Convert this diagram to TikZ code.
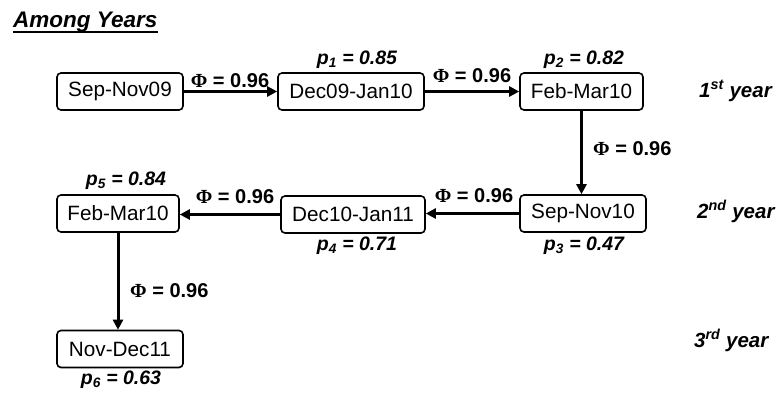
\documentclass[tikz,border=0pt]{standalone}
\usepackage{fontspec}
\setmainfont{Liberation Sans}
\newfontfamily\phifont{Liberation Serif}
\usetikzlibrary{arrows.meta}
\tikzset{
  period/.style={draw, line width=1.6pt, rounded corners=4pt, inner sep=0pt,
    minimum height=37pt, font=\fontsize{20.7}{22}\selectfont},
  flow/.style={line width=3pt, -{Triangle[length=10pt,width=10pt]}},
  philab/.style={anchor=base, inner sep=0pt, font=\fontsize{20}{22}\selectfont\bfseries},
  plab/.style={anchor=base, inner sep=0pt, font=\fontsize{19.5}{22}\selectfont\bfseries\itshape},
  yearlab/.style={anchor=base west, inner sep=0pt, font=\fontsize{20.5}{22}\selectfont\bfseries\itshape},
}
\newcommand{\phival}{{\phifont\bfseries Φ} = 0.96}
\newcommand{\pval}[2]{p\textsubscript{#1} = #2}
\begin{document}
\begin{tikzpicture}[x=1pt,y=1pt]
\useasboundingbox (0,0) rectangle (780,-392);
% title
\node[anchor=base west, inner sep=0pt, font=\fontsize{22.5}{24}\selectfont\bfseries\itshape] (title) at (13,-27) {Among Years};
\draw[line width=1.8pt] ([yshift=-5pt]title.base west) -- ([yshift=-5pt]title.base east);
% boxes
\node[period, minimum width=126pt] (a) at (120,-91.5) {Sep-Nov09};
\node[period, minimum width=146pt] (b) at (351,-91.5) {Dec09-Jan10};
\node[period, minimum width=123pt] (c) at (581.5,-91.5) {Feb-Mar10};
\node[period, minimum width=126pt] (d) at (583,-213.5) {Sep-Nov10};
\node[period, minimum width=144pt] (e) at (353,-214.5) {Dec10-Jan11};
\node[period, minimum width=122pt] (f) at (118,-213.5) {Feb-Mar10};
\node[period, minimum width=126pt] (g) at (120,-349) {Nov-Dec11};
% arrows
\draw[flow] (a.east) -- (b.west);
\draw[flow] (b.east) -- (b.east -| c.west);
\draw[flow] (c.south) -- (c.south |- d.north);
\draw[flow] (d.west) -- (d.west -| e.east);
\draw[flow] (e.west) -- (e.west -| f.east);
\draw[flow] (f.south) -- (f.south |- g.north);
% phi labels
\node[philab] (phi1) at (230,-87) {\phival};
\node[philab] (phi2) at (472,-82) {\phival};
\node[philab, anchor=base west] (phi3) at (593,-155) {\phival};
\node[philab] (phi4) at (474,-202) {\phival};
\node[philab] (phi5) at (235,-203) {\phival};
\node[philab, anchor=base west] (phi6) at (130,-297) {\phival};
% p labels
\node[plab] (p1) at (357,-64) {\pval{1}{0.85}};
\node[plab] (p2) at (584,-64) {\pval{2}{0.82}};
\node[plab] (p3) at (584,-250) {\pval{3}{0.47}};
\node[plab] (p4) at (357,-250) {\pval{4}{0.71}};
\node[plab] (p5) at (126,-185) {\pval{5}{0.84}};
\node[plab] (p6) at (121,-384) {\pval{6}{0.63}};
% years
\node[yearlab] (y1) at (699,-97) {1\textsuperscript{st} year};
\node[yearlab] (y2) at (697,-218) {2\textsuperscript{nd} year};
\node[yearlab] (y3) at (694,-347) {3\textsuperscript{rd} year};
\end{tikzpicture}
\end{document}
